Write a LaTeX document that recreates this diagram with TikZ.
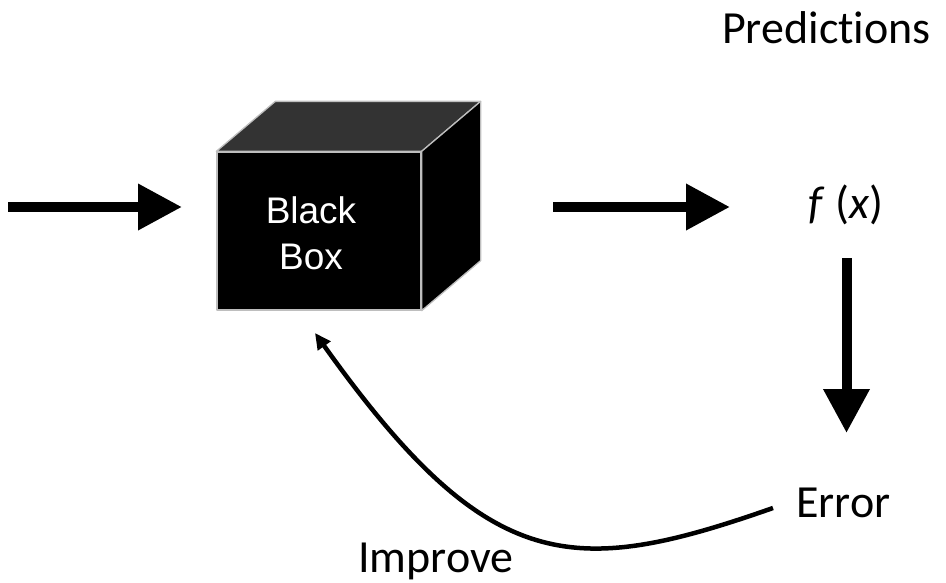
\documentclass[tikz,border=0pt]{standalone}
\usepackage{fontspec}
\setmainfont{Carlito}[Ligatures=NoCommon]
\newfontfamily\boxfont{Liberation Sans}
\usetikzlibrary{arrows.meta,calc}
\definecolor{topface}{HTML}{333333}
\definecolor{edgegray}{HTML}{BEBEBE}
\tikzset{
  bigarrow/.style={line width=10pt, -{Triangle[length=44pt,width=44pt]}},
  loopback/.style={line width=4.5pt, -{Triangle[length=16pt,width=15pt]}},
  lbl/.style={inner sep=0pt, font=\fontsize{46}{50}\selectfont},
  face/.style={draw=edgegray, line width=1.3pt, line join=round},
}
\begin{document}
\begin{tikzpicture}[x=1pt,y=-1pt]
\useasboundingbox (0,0) rectangle (946,582);

% the cube: front face, then top and right faces
\node[face, fill=black, minimum width=204pt, minimum height=158pt, inner sep=0pt] (front) at (319,231) {};
\draw[face, fill=topface] (front.north west) -- ($(front.north west)+(59,-50)$)
  -- ($(front.north east)+(59,-50)$) -- (front.north east) -- cycle;
\draw[face, fill=black] (front.north east) -- ($(front.north east)+(59,-50)$)
  -- ($(front.south east)+(59,-50)$) -- (front.south east) -- cycle;
\node[text=white, font=\boxfont\fontsize{37}{46}\selectfont, align=center] (bbtext) at (311,233) {Black\\Box};

% labels
\node[lbl, anchor=base west] (pred) at (722,43) {Predictions};
\node[lbl, anchor=base] (fx) at (846,218) {\textit{f} (\textit{x})};
\node[lbl, anchor=base west] (err) at (796,517) {Error};
\node[lbl, anchor=base west] (imp) at (358,572) {Improve};

% arrow ends
\coordinate (inA) at (8,207);
\coordinate (inB) at (182,207);
\coordinate (outA) at (553,207);
\coordinate (outB) at (730,207);
\coordinate (dnA) at (846.5,258);
\coordinate (dnB) at (846.5,433);
\coordinate (fbA) at (773,508);
\coordinate (fbB) at (315,333);

% connectors
\draw[bigarrow] (inA) -- (inB);
\draw[bigarrow] (outA) -- (outB);
\draw[bigarrow] (dnA) -- (dnB);
\draw[loopback] (fbA) .. controls +(-200,70) and +(174,244) .. (fbB);
\end{tikzpicture}
\end{document}
